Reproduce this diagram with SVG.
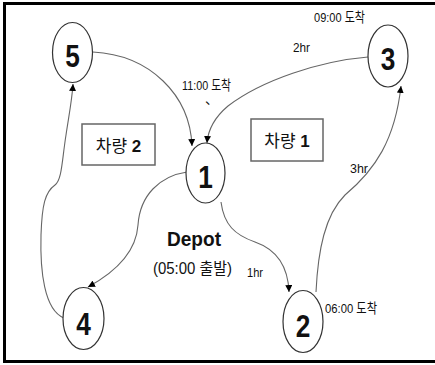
<svg xmlns="http://www.w3.org/2000/svg" width="435" height="365" viewBox="0 0 435 365">
<style>
.node ellipse{fill:#fff;stroke:#333;stroke-width:1.2}
.num{font-family:"Liberation Sans","Noto Sans CJK KR",sans-serif;font-weight:bold;font-size:32px;fill:#111;text-anchor:middle}
.edge{fill:none;stroke:#666;stroke-width:1.1;marker-end:url(#arr)}
.lbl{font-family:"Liberation Sans Narrow","Liberation Sans","Noto Sans CJK KR",sans-serif;font-size:13.5px;fill:#111}
.box rect{fill:#fff;stroke:#666;stroke-width:1.5}
.box text{font-family:"Liberation Sans","Noto Sans CJK KR",sans-serif;font-size:17px;fill:#111;text-anchor:middle}
</style>
<defs>
<marker id="arr" viewBox="0 0 10 10" refX="10" refY="5" markerWidth="7" markerHeight="7" markerUnits="userSpaceOnUse" orient="auto">
<path d="M0,0 L10,5 L0,10 Z" fill="#000"/>
</marker>
</defs>
<rect x="4.5" y="3.5" width="440" height="358" fill="#fff" stroke="#000" stroke-width="3"/>
<g id="connectors">
<path class="edge" d="M93,52 C150,55 190,95 192,146"/>
<path class="edge" d="M368,57 C320,61 262,80 228,106 C215,117 208,130 207,143"/>
<path class="edge" d="M187,172 C160,176 140,195 138,225 C136,255 110,275 88,287"/>
<path class="edge" d="M64,318 C44,310 40,270 41,235 C42,205 45,192 55,185 C62,180 62,160 66,135 C69,115 72,100 73,84"/>
<path class="edge" d="M221,202 C224,225 235,235 255,242 C275,249 288,265 289,292"/>
<path class="edge" d="M316,292 C318,250 325,215 345,195 C375,170 395,140 401,86"/>
</g>
<g id="node5" class="node"><ellipse cx="72.5" cy="52.5" rx="20" ry="30"/><text class="num" transform="translate(72.5,67) scale(0.82,1)">5</text></g>
<g id="node3" class="node"><ellipse cx="388" cy="56" rx="20" ry="31"/><text class="num" transform="translate(388,70) scale(0.82,1)">3</text></g>
<g id="node1" class="node"><ellipse cx="205.5" cy="173" rx="19.5" ry="30"/><text class="num" transform="translate(205.5,188) scale(0.82,1)">1</text></g>
<g id="node4" class="node"><ellipse cx="83.5" cy="318.5" rx="20.5" ry="31"/><text class="num" transform="translate(83.5,335) scale(0.82,1)">4</text></g>
<g id="node2" class="node"><ellipse cx="303" cy="321.5" rx="20" ry="31"/><text class="num" transform="translate(303,337) scale(0.82,1)">2</text></g>
<g id="box2" class="box"><rect x="82" y="124" width="73" height="41"/><text x="118.5" y="151.5">차량 <tspan font-weight="bold">2</tspan></text></g>
<g id="box1" class="box"><rect x="251" y="119" width="72" height="42"/><text x="287" y="147">차량 <tspan font-weight="bold">1</tspan></text></g>
<g id="labels">
<text class="lbl" x="314" y="22" textLength="51" lengthAdjust="spacingAndGlyphs">09:00 도착</text>
<text class="lbl" x="293" y="52" textLength="17" lengthAdjust="spacingAndGlyphs">2hr</text>
<text class="lbl" x="182" y="90" textLength="49" lengthAdjust="spacingAndGlyphs">11:00 도착</text>
<text class="lbl" x="205" y="104" font-size="7">、</text>
<text class="lbl" x="350" y="173" textLength="18" lengthAdjust="spacingAndGlyphs">3hr</text>
<text class="lbl" x="247" y="277" textLength="16" lengthAdjust="spacingAndGlyphs">1hr</text>
<text class="lbl" x="325" y="313" textLength="52" lengthAdjust="spacingAndGlyphs">06:00 도착</text>
<text x="167" y="246" font-family="Liberation Sans,Noto Sans CJK KR,sans-serif" font-weight="bold" font-size="20" fill="#111" textLength="54" lengthAdjust="spacingAndGlyphs">Depot</text>
<text x="153" y="274" font-family="Liberation Sans,Noto Sans CJK KR,sans-serif" font-size="16" fill="#111" textLength="79" lengthAdjust="spacingAndGlyphs">(05:00 출발)</text>
</g>
</svg>
